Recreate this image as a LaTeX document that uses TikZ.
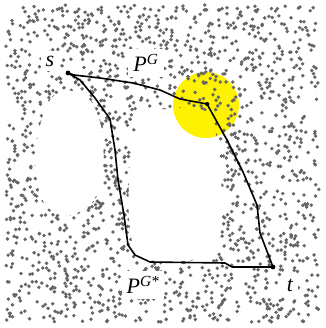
\documentclass[tikz,border=0pt]{standalone}
\usepackage{fontspec}
\setmainfont{Liberation Serif}
\usepackage{tikz}
\definecolor{dotgray}{HTML}{666666}
\definecolor{hotspot}{HTML}{FFF200}

\begin{document}
\begin{tikzpicture}[
 x=1pt,y=-1pt,
 grain/.style={fill=dotgray},
 route/.style={draw=black,line width=1.6pt,line join=round,line cap=round},
 tag/.style={fill=white,inner sep=5pt,font=\fontsize{22}{24}\selectfont\itshape},
]
\useasboundingbox[fill=white] (0,0) rectangle (325,328);
\fill[hotspot] (206,105) circle (33pt);
% dots everywhere except the two obstacles
\begin{scope}[even odd rule]
\clip (0,0) rectangle (325,328)
 plot[smooth cycle] coordinates {(66,90) (90,100) (102,130) (103,170) (92,203) (66,216) (44,203) (35,165) (40,125) (50,100)}
 plot[smooth cycle] coordinates {(150,112) (180,108) (205,111) (214,126) (219,155) (222,200) (219,240) (207,256) (170,262) (138,255) (129,220) (130,160) (137,126)};
\pgfmathsetseed{7}
\foreach \i in {1,...,2000}{
 \pgfmathsetmacro{\px}{6+313*rnd}
 \pgfmathsetmacro{\py}{5+317*rnd}
 \fill[grain] (\px,\py) circle (1.9pt);
}
\end{scope}
\coordinate (s) at (68,73);
\coordinate (k) at (207,104);
\coordinate (t) at (273,267);
\node[tag] (slbl) at (50,61) {s};
\node[tag] (pg) at (146,63) {P\textsuperscript{G}};
\node[tag] (pgs) at (143,285) {P\textsuperscript{G*}};
\node[tag] (tlbl) at (290,285) {t};
% P^G
\draw[route] (s) -- (74,75) -- (100,78) -- (133,83) -- (160,90) -- (180,99) -- (k)
 -- (217,122) -- (227,140) -- (243,172) -- (257,205) -- (260,233) -- (t);
% P^G*
\draw[route] (s) -- (80,80) -- (95,98) -- (110,119) -- (115,150) -- (118,180) -- (124,215)
 -- (128,245) -- (135,255) -- (150,262) -- (225,263) -- (232,267) -- (t);
\fill (s) circle (2.4pt) (k) circle (2pt) (t) circle (2.4pt);
\end{tikzpicture}
\end{document}
